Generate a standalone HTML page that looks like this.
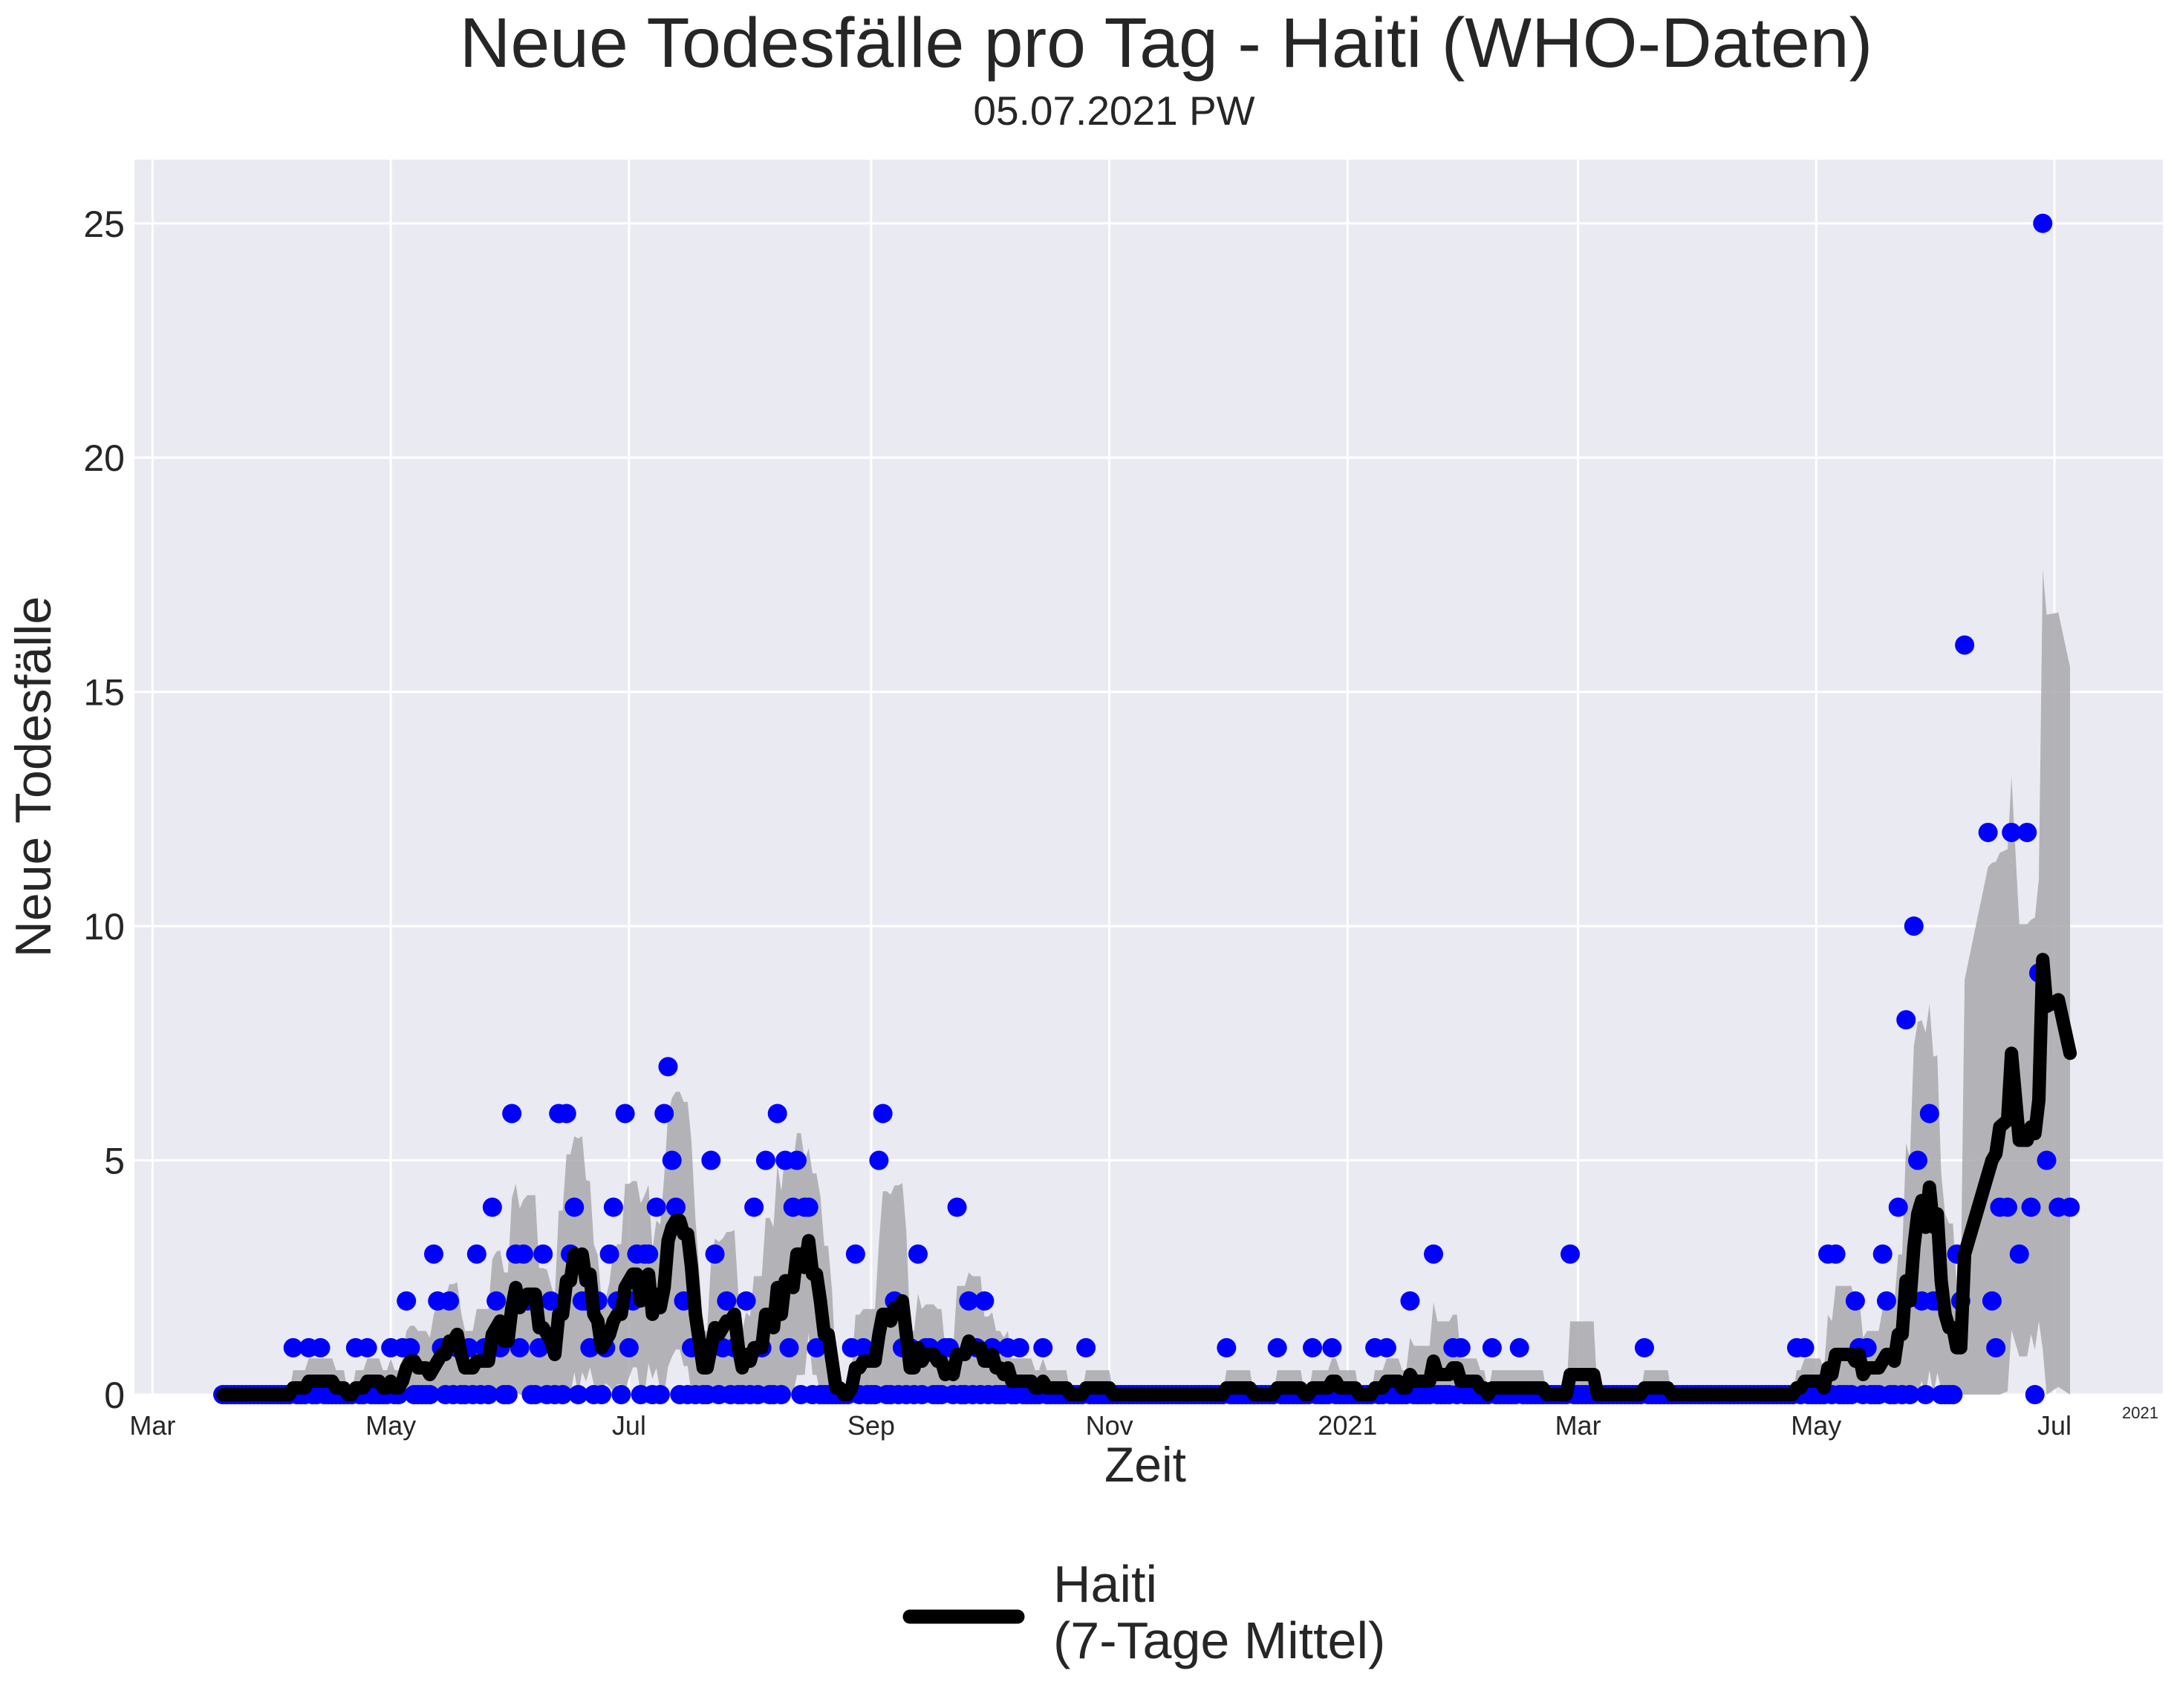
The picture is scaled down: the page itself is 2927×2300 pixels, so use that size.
<!DOCTYPE html>
<html><head><meta charset="utf-8"><style>
html,body{margin:0;padding:0;background:#fff;}
svg text{font-family:"Liberation Sans",Arial,sans-serif;fill:#262626;}
</style></head><body>
<svg id="chart" width="2927" height="2295" xmlns="http://www.w3.org/2000/svg">
<rect x="0" y="0" width="2927" height="2295" fill="#fff"/>
<rect x="181" y="215" width="2731" height="1663" fill="#EAEAF2"/>
<g id="grid"></g>
<g id="band"></g>
<g id="dots"></g>
<g id="line"></g>
<g id="ticks"></g>
<text x="1570" y="90" font-size="95" text-anchor="middle">Neue Todesfälle pro Tag - Haiti (WHO-Daten)</text>
<text x="1500" y="168" font-size="55" text-anchor="middle">05.07.2021 PW</text>
<text x="1542" y="1995" font-size="66" text-anchor="middle">Zeit</text>
<text transform="translate(68,1046) rotate(-90)" font-size="68" text-anchor="middle">Neue Todesfälle</text>
<text x="2906" y="1910" font-size="22" text-anchor="end">2021</text>
<g>
<line x1="1225" y1="2177" x2="1370" y2="2177" stroke="#000" stroke-width="19" stroke-linecap="round"/>
<text x="1418" y="2157" font-size="70">Haiti</text>
<text x="1418" y="2233" font-size="70">(7-Tage Mittel)</text>
</g>
</svg>
<script>
// day index = days since 2020-03-01
const firstDay = 18, lastDay = 491;
const dayIdx = [36,40,43,52,55,61,64,65,66,72,73,74,76,78,81,83,85,87,88,89,92,93,94,95,96,99,100,102,104,106,107,108,110,111,112,114,116,117,118,119,121,122,123,124,126,127,129,131,132,133,134,136,138,140,143,144,146,147,149,152,154,156,157,160,162,163,164,165,167,168,170,179,180,182,186,187,190,192,194,196,198,199,203,204,206,209,211,213,215,219,222,228,239,275,288,297,302,313,316,322,328,333,335,343,350,363,382,421,423,429,431,436,437,439,443,444,447,449,451,452,453,455,456,457,462,463,464,470,471,472,473,475,476,478,480,481,482,483,484,485,488,491];
const deaths = [1,1,1,1,1,1,1,2,1,3,2,1,2,1,1,3,1,4,2,1,6,3,1,3,2,1,3,2,6,6,3,4,2,2,1,2,1,3,4,2,6,1,2,3,3,3,4,6,7,5,4,2,1,1,5,3,1,2,1,2,4,1,5,6,5,1,4,5,4,4,1,1,3,1,5,6,2,1,1,3,1,1,1,1,4,2,1,2,1,1,1,1,1,1,1,1,1,1,1,2,3,1,1,1,1,3,1,1,1,3,3,2,1,1,3,2,4,8,10,5,2,6,2,2,3,2,16,12,2,1,4,4,12,3,12,4,0,9,25,5,4,4];
// from this day on, only listed days were reported
const sparseFrom = 465;
const yTicks = [0,5,10,15,20,25];
const xTickDays = [0,61,122,184,245,306,365,426,487];
const xTickLabels = ["Mar","May","Jul","Sep","Nov","2021","Mar","May","Jul"];

const NS="http://www.w3.org/2000/svg";
const L=181,R=2912,T=215,B=1878,YMAX=26.36;
const X=d=>205.4+5.258*d;
const Y=v=>B-(v/YMAX)*(B-T);
function mk(tag,attrs,parent){const e=document.createElementNS(NS,tag);for(const k in attrs)e.setAttribute(k,attrs[k]);parent.appendChild(e);return e;}
const grid=document.getElementById('grid'),ticks=document.getElementById('ticks');
yTicks.forEach(v=>{
  const l=mk('line',{x1:L,x2:R,y1:Y(v),y2:Y(v),stroke:'#fff','stroke-width':3},grid);
  
  
  const t=mk('text',{x:168,y:Y(v)+18,'font-size':50,'text-anchor':'end'},ticks);
  t.textContent=v;
  
  
});
xTickDays.forEach((d,i)=>{
  const l=mk('line',{x1:X(d),x2:X(d),y1:T,y2:B,stroke:'#fff','stroke-width':3},grid);
  
  
  const t=mk('text',{x:X(d),y:1932,'font-size':36,'text-anchor':'middle'},ticks);
  t.textContent=xTickLabels[i];
  
  
});
// reported rows
const rows=[];
for(let d=firstDay;d<=lastDay;d++){
  const k=dayIdx.indexOf(d);
  if(k>=0)rows.push([d,deaths[k]]);
  else if(d<sparseFrom)rows.push([d,0]);
}
// rolling 7-row mean and std
const mean=[],sd=[];
for(let i=0;i<rows.length;i++){
  const w=rows.slice(Math.max(0,i-6),i+1).map(r=>r[1]);
  const m=w.reduce((a,b)=>a+b,0)/w.length;
  let s=0;if(w.length>1){s=Math.sqrt(w.reduce((a,b)=>a+(b-m)*(b-m),0)/(w.length-1));}
  mean.push(m);sd.push(s);
}
const clipY=y=>Math.max(T,Math.min(B,y));
let up=[],lo=[];
rows.forEach((r,i)=>{const x=X(r[0]);up.push(x+','+clipY(Y(mean[i]+sd[i])));lo.push(x+','+clipY(Y(mean[i]-sd[i])));});
const band=mk('polygon',{points:up.concat(lo.reverse()).join(' '),fill:'#a9a9ad','fill-opacity':0.85},document.getElementById('band'));


const dots=document.getElementById('dots');
rows.forEach(r=>{
  const c=mk('circle',{cx:X(r[0]),cy:Y(r[1]),r:13,fill:'#0000ff'},dots);
  
  
});
const pts=rows.map((r,i)=>X(r[0])+','+Y(mean[i])).join(' ');
const pl=mk('polyline',{points:pts,fill:'none',stroke:'#000','stroke-width':18,'stroke-linejoin':'round','stroke-linecap':'round'},document.getElementById('line'));


</script>
</body></html>
